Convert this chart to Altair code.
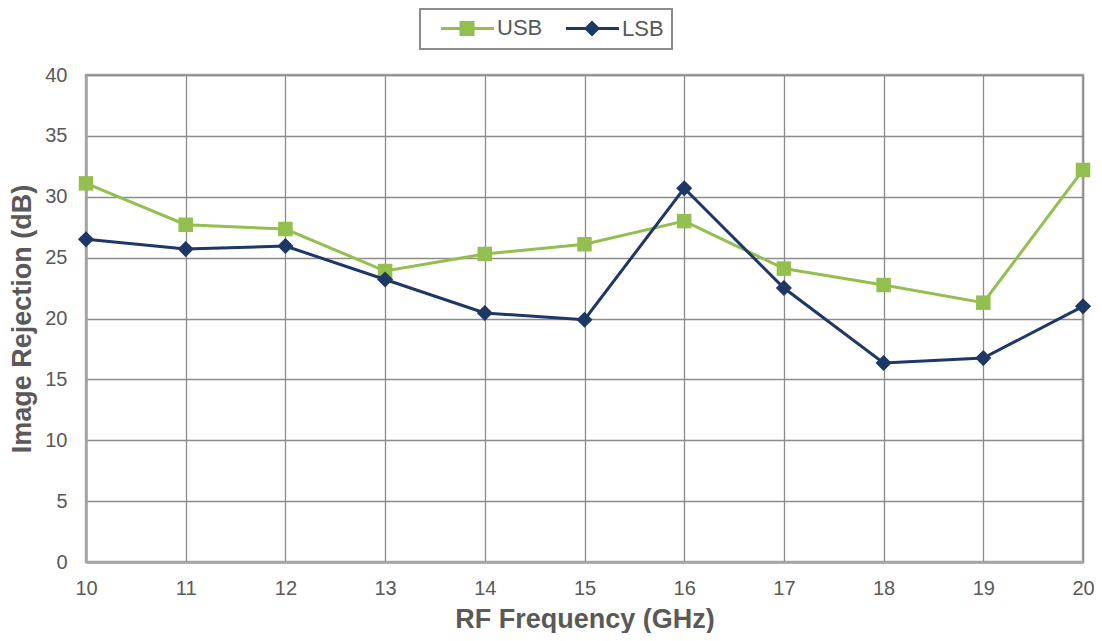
import altair as alt
import pandas as pd

freq = [10, 11, 12, 13, 14, 15, 16, 17, 18, 19, 20]
usb = [31.1, 27.7, 27.35, 23.9, 25.3, 26.1, 28.0, 24.1, 22.75, 21.3, 32.2]
lsb = [26.5, 25.7, 25.95, 23.2, 20.45, 19.9, 30.7, 22.5, 16.35, 16.75, 21.0]
series_names = ["USB", "LSB"]
series_colors = ["#92bf4e", "#1d3767"]
y_ticks = [0, 5, 10, 15, 20, 25, 30, 35, 40]

df = pd.DataFrame({
    "freq": freq * 2,
    "value": usb + lsb,
    "series": ["USB"] * len(freq) + ["LSB"] * len(freq),
})

TXT = "#595959"
FONT = "Liberation Sans"

x_enc = alt.X("freq:Q", scale=alt.Scale(domain=[10, 20], nice=False),
              axis=alt.Axis(values=freq, title="RF Frequency (GHz)", format="d", labelFlush=False))
y_enc = alt.Y("value:Q", scale=alt.Scale(domain=[0, 40], nice=False),
              axis=alt.Axis(values=y_ticks, title="Image Rejection (dB)", labelFlush=False))
col = alt.Color("series:N", scale=alt.Scale(domain=series_names, range=series_colors), legend=None)

base = alt.Chart(df)

def line_layer(name):
    return base.transform_filter(alt.datum.series == name).mark_line(strokeWidth=3).encode(
        x=x_enc, y=y_enc, color=col)

def pt_layer(name, shape, size):
    return base.transform_filter(alt.datum.series == name).mark_point(
        filled=True, shape=shape, size=size, opacity=1).encode(x=x_enc, y=y_enc, color=col)

usb_path = "M0.29,0H7.86M3.14,-0.86H4.86V0.86H3.14Z"
lsb_path = "M0.29,0H7.86M3.15,0L4.0,-0.85L4.85,0L4.0,0.85Z"

legend_layer = base.mark_point(filled=False, opacity=0, size=196).encode(
    x=x_enc, y=y_enc,
    stroke=alt.Stroke("series:N", scale=alt.Scale(domain=series_names, range=series_colors),
                      title=None, legend=alt.Legend(title=None)),
    fill=alt.Fill("series:N", scale=alt.Scale(domain=series_names, range=series_colors),
                  title=None, legend=alt.Legend(title=None)),
    shape=alt.Shape("series:N", scale=alt.Scale(domain=series_names, range=[usb_path, lsb_path]),
                    title=None, legend=alt.Legend(title=None)),
)

chart = alt.layer(
    legend_layer,
    line_layer("USB"), pt_layer("USB", "square", 210),
    line_layer("LSB"), pt_layer("LSB", "diamond", 260),
).properties(
    width=997, height=487,
    autosize=alt.AutoSizeParams(type="none"),
    padding={"left": 78, "top": 67, "right": 11, "bottom": 71},
).configure_view(
    stroke="#a6a6a6", strokeWidth=2.5
).configure_axis(
    labelFont=FONT, titleFont=FONT, labelColor=TXT, titleColor=TXT,
    labelFontSize=20, titleFontSize=27, titleFontWeight="bold",
    grid=True, gridColor="#8c8c8c", gridWidth=1.3,
    domainColor="#a6a6a6", domainWidth=2.5, ticks=False,
).configure_axisX(
    labelPadding=16, titlePadding=8,
).configure_axisY(
    labelPadding=19, titlePadding=8,
).configure_legend(
    orient="none", legendX=334, legendY=-66, direction="horizontal",
    labelFont=FONT, labelFontSize=22, labelColor=TXT, labelOffset=47,
    symbolSize=196, symbolStrokeWidth=3, symbolOpacity=1,
    padding=8, columnPadding=10,
    strokeColor="#8c8c8c", strokeWidth=2,
)

chart.save("out.html", embed_options={"renderer": "svg", "actions": False})
